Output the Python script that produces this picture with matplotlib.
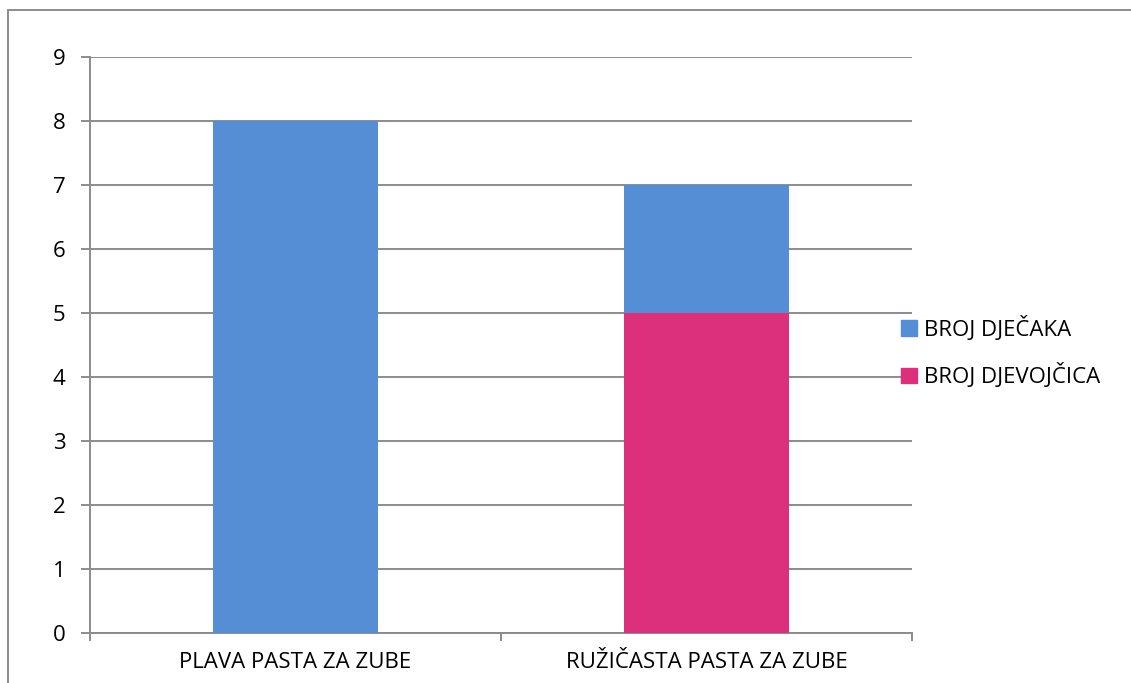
import numpy as np
import matplotlib.pyplot as plt
from matplotlib.lines import Line2D
from matplotlib.patches import Patch

plt.rcParams['font.family'] = ['Open Sans', 'DejaVu Sans']

categories = ['PLAVA PASTA ZA ZUBE', 'RUŽIČASTA PASTA ZA ZUBE']
girls = [0, 5]
boys = [8, 2]
series_names = ['BROJ DJEČAKA', 'BROJ DJEVOJČICA']
blue = '#558ed5'
pink = '#dc307c'
gray = '#8c8c8c'

fig = plt.figure(figsize=(11.31, 6.83), dpi=100)
ax = fig.add_axes([90/1131, 1 - 633/683, (912-90)/1131, (633-57)/683])

x = np.arange(len(categories))
ax.bar(x, girls, width=0.4, color=pink, zorder=3)
ax.bar(x, boys, width=0.4, bottom=girls, color=blue, zorder=3)

ax.set_xlim(-0.5, 1.5)
ax.set_ylim(0, 9)
ax.set_yticks(range(10))
ax.yaxis.grid(True, color=gray, lw=1.4, zorder=0)
ax.tick_params(axis='y', length=6.5, width=1.4, color=gray, labelsize=16, pad=11)
ax.set_xticks(x)
ax.set_xticklabels(categories)
ax.tick_params(axis='x', which='major', length=0, labelsize=16, pad=14)
ax.set_xticks([-0.5, 0.5, 1.5], minor=True)
ax.tick_params(axis='x', which='minor', length=5.8, width=1.4, color=gray, direction='out')
for s in ['top', 'right']:
    ax.spines[s].set_visible(False)
for s in ['left', 'bottom']:
    ax.spines[s].set_color(gray)
    ax.spines[s].set_linewidth(1.4)

handles = [Patch(color=blue), Patch(color=pink)]
fig.legend(handles, series_names, loc='center left', bbox_to_anchor=(901/1131, 1 - 352/683),
           frameon=False, fontsize=16, handlelength=0.7, handleheight=0.7,
           handletextpad=0.35, labelspacing=1.0, borderpad=0, borderaxespad=0)

fig.add_artist(Line2D([8/1131, 8/1131], [0, 1 - 10/683], color=gray, lw=1.4, transform=fig.transFigure))
fig.add_artist(Line2D([8/1131, 1], [1 - 10/683, 1 - 10/683], color=gray, lw=1.4, transform=fig.transFigure))

fig.savefig('out.png', dpi=100)
